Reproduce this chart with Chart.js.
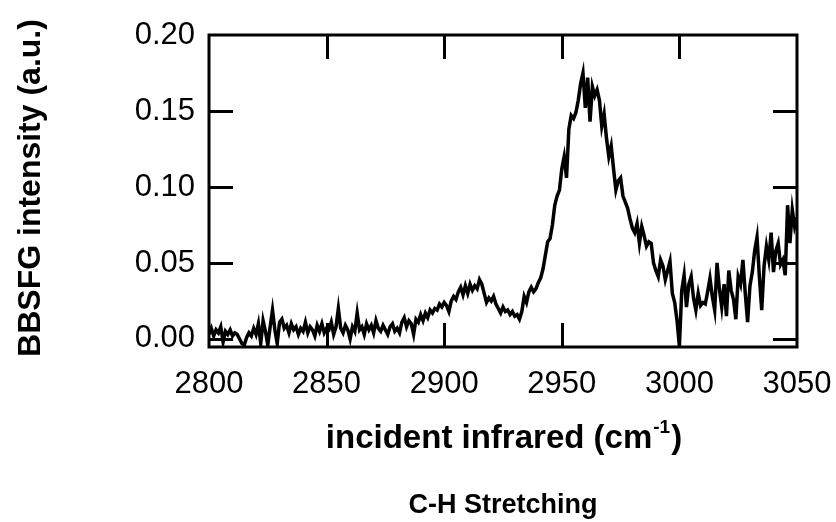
<!DOCTYPE html>
<html><head><meta charset="utf-8">
<script src="https://cdn.jsdelivr.net/npm/chart.js@4.4.1/dist/chart.umd.min.js"></script>
<style>html,body{margin:0;padding:0;background:#fff}#wrap{width:836px;height:522px}</style>
</head><body><div id="wrap"><canvas id="c" width="836" height="522"></canvas></div>
<script>
const wavenumbers = [
2800,2801,2802,2803,2804,2805,2806,2807,2808,2809,
2810,2811,2812,2813,2814,2815,2816,2817,2818,2819,
2820,2821,2822,2823,2824,2825,2826,2827,2828,2829,
2830,2831,2832,2833,2834,2835,2836,2837,2838,2839,
2840,2841,2842,2843,2844,2845,2846,2847,2848,2849,
2850,2851,2852,2853,2854,2855,2856,2857,2858,2859,
2860,2861,2862,2863,2864,2865,2866,2867,2868,2869,
2870,2871,2872,2873,2874,2875,2876,2877,2878,2879,
2880,2881,2882,2883,2884,2885,2886,2887,2888,2889,
2890,2891,2892,2893,2894,2895,2896,2897,2898,2899,
2900,2901,2902,2903,2904,2905,2906,2907,2908,2909,
2910,2911,2912,2913,2914,2915,2916,2917,2918,2919,
2920,2921,2922,2923,2924,2925,2926,2927,2928,2929,
2930,2931,2932,2933,2934,2935,2936,2937,2938,2939,
2940,2941,2942,2943,2944,2945,2946,2947,2948,2949,
2950,2951,2952,2953,2954,2955,2956,2957,2958,2959,
2960,2961,2962,2963,2964,2965,2966,2967,2968,2969,
2970,2971,2972,2973,2974,2975,2976,2977,2978,2979,
2980,2981,2982,2983,2984,2985,2986,2987,2988,2989,
2990,2991,2992,2993,2994,2995,2996,2997,2998,2999,
3000,3001,3002,3003,3004,3005,3006,3007,3008,3009,
3010,3011,3012,3013,3014,3015,3016,3017,3018,3019,
3020,3021,3022,3023,3024,3025,3026,3027,3028,3029,
3030,3031,3032,3033,3034,3035,3036,3037,3038,3039,
3040,3041,3042,3043,3044,3045,3046,3047,3048,3049,
3050];
const intensity = [
0.003,0.007,0.002,0.006,0.004,0.008,-0.002,0.005,0.003,0.006,
0.002,0.004,0.003,0.000,-0.003,-0.004,0.001,0.004,0.002,0.007,
0.003,0.010,-0.003,0.012,0.005,-0.004,0.008,0.019,0.006,-0.003,
0.011,0.013,0.007,0.009,0.004,0.010,0.006,0.008,0.003,0.007,
0.005,0.011,0.004,0.008,0.006,0.002,0.009,0.005,0.010,0.004,
0.007,0.006,0.011,0.003,0.008,0.020,0.007,0.004,0.009,0.006,
0.000,0.008,0.005,0.017,0.006,0.008,0.003,0.010,0.006,0.009,
0.004,0.012,0.007,0.005,0.009,0.006,0.003,0.008,0.010,0.005,
0.007,0.004,0.011,0.014,0.008,0.012,0.010,0.003,0.013,0.011,
0.016,0.012,0.017,0.014,0.019,0.017,0.020,0.019,0.023,0.021,
0.024,0.022,0.018,0.025,0.028,0.026,0.031,0.034,0.029,0.035,
0.030,0.036,0.032,0.035,0.033,0.039,0.036,0.030,0.024,0.027,
0.025,0.028,0.023,0.020,0.017,0.021,0.018,0.019,0.016,0.018,
0.015,0.016,0.013,0.018,0.028,0.024,0.031,0.034,0.031,0.033,
0.037,0.040,0.046,0.055,0.064,0.066,0.075,0.088,0.094,0.098,
0.112,0.120,0.106,0.138,0.147,0.145,0.149,0.157,0.168,0.175,
0.152,0.172,0.143,0.166,0.160,0.164,0.157,0.140,0.148,0.132,
0.120,0.127,0.112,0.098,0.104,0.106,0.094,0.090,0.086,0.079,
0.073,0.070,0.076,0.063,0.074,0.068,0.061,0.064,0.063,0.050,
0.045,0.041,0.052,0.048,0.039,0.045,0.051,0.030,0.024,0.012,
-0.005,0.032,0.042,0.021,0.036,0.041,0.027,0.019,0.030,0.022,
0.024,0.023,0.031,0.040,0.028,0.019,0.050,0.033,0.021,0.036,
0.015,0.045,0.032,0.026,0.013,0.041,0.036,0.052,0.030,0.011,
0.035,0.044,0.058,0.067,0.041,0.019,0.048,0.061,0.052,0.070,
0.044,0.058,0.063,0.049,0.052,0.042,0.088,0.063,0.085,0.074,
0.080];
const xTickValues = [2800, 2850, 2900, 2950, 3000, 3050];
const yTickValues = [0.00, 0.05, 0.10, 0.15, 0.20];
const xInnerTicks = [2850, 2900, 2950, 3000];
const yInnerTicks = [0.00, 0.05, 0.10, 0.15];
const yTitle = 'BBSFG intensity (a.u.)';
const xTitleMain = 'incident infrared (cm';
const xTitleSup = '-1';
const xTitleEnd = ')';
const caption = 'C-H Stretching';

const FONT = "'Liberation Sans', Arial, Helvetica, sans-serif";

const framePlugin = {
  id: 'frame',
  afterDraw(chart) {
    const ctx = chart.ctx, a = chart.chartArea;
    const xs = chart.scales.x, ys = chart.scales.y;
    ctx.save();
    ctx.strokeStyle = '#000';
    ctx.lineWidth = 3;
    ctx.lineCap = 'butt';
    ctx.strokeRect(a.left, a.top, a.right - a.left, a.bottom - a.top);
    const L = 24;
    ctx.beginPath();
    xInnerTicks.forEach(v => {
      const px = Math.round(xs.getPixelForValue(v)) + 0.5;
      ctx.moveTo(px, a.bottom); ctx.lineTo(px, a.bottom - L);
      ctx.moveTo(px, a.top); ctx.lineTo(px, a.top + L);
    });
    yInnerTicks.forEach(v => {
      const py = Math.round(ys.getPixelForValue(v)) + 0.5;
      ctx.moveTo(a.left, py); ctx.lineTo(a.left + L, py);
      ctx.moveTo(a.right, py); ctx.lineTo(a.right - L, py);
    });
    ctx.stroke();

    ctx.fillStyle = '#000';
    // y title
    ctx.save();
    ctx.translate(31, 188);
    ctx.rotate(-Math.PI / 2);
    ctx.font = "bold 32px " + FONT;
    ctx.textAlign = 'center';
    ctx.textBaseline = 'middle';
    ctx.fillText(yTitle, 0, 0);
    ctx.restore();
    // x title with superscript
    const cx = (a.left + a.right) / 2;
    ctx.textBaseline = 'alphabetic';
    ctx.textAlign = 'left';
    const big = "bold 33px " + FONT, small = "bold 19px " + FONT;
    ctx.font = big; const w1 = ctx.measureText(xTitleMain).width; const w3 = ctx.measureText(xTitleEnd).width;
    ctx.font = small; const w2 = ctx.measureText(xTitleSup).width;
    let x0 = cx - (w1 + w2 + w3) / 2;
    const base = 448;
    ctx.font = big; ctx.fillText(xTitleMain, x0, base);
    ctx.font = small; ctx.fillText(xTitleSup, x0 + w1 + 1, base - 15);
    ctx.font = big; ctx.fillText(xTitleEnd, x0 + w1 + w2 + 2, base);
    // caption
    ctx.textAlign = 'center';
    ctx.font = "bold 27px " + FONT;
    ctx.fillText(caption, cx, 513);
    ctx.restore();
  }
};

new Chart(document.getElementById('c'), {
  type: 'line',
  data: {
    datasets: [{
      data: wavenumbers.map((w, i) => ({ x: w, y: intensity[i] })),
      borderColor: '#000',
      borderWidth: 3.5,
      pointRadius: 0,
      tension: 0,
      fill: false
    }]
  },
  options: {
    responsive: false,
    animation: false,
    devicePixelRatio: 1,
    layout: { padding: { top: 35, right: 39, bottom: 0, left: 0 } },
    plugins: { legend: { display: false }, tooltip: { enabled: false } },
    scales: {
      x: {
        type: 'linear', min: 2800, max: 3050,
        grid: { display: false, drawTicks: false },
        border: { display: false },
        ticks: { color: '#000', font: { family: FONT, size: 31 }, padding: 19, maxRotation: 0, autoSkip: false, callback: v => String(v) },
        afterBuildTicks: s => { s.ticks = xTickValues.map(v => ({ value: v })); },
        afterFit: s => { s.height = 522 - 347; s.paddingLeft = 0; s.paddingRight = 0; }
      },
      y: {
        type: 'linear', min: -0.0053, max: 0.2,
        grid: { display: false, drawTicks: false },
        border: { display: false },
        ticks: { color: '#000', font: { family: FONT, size: 31 }, padding: 14, callback: v => Number(v).toFixed(2) },
        afterBuildTicks: s => { s.ticks = yTickValues.map(v => ({ value: v })); },
        afterFit: s => { s.width = 209; s.paddingTop = 0; s.paddingBottom = 0; }
      }
    }
  },
  plugins: [framePlugin]
});
</script></body></html>
